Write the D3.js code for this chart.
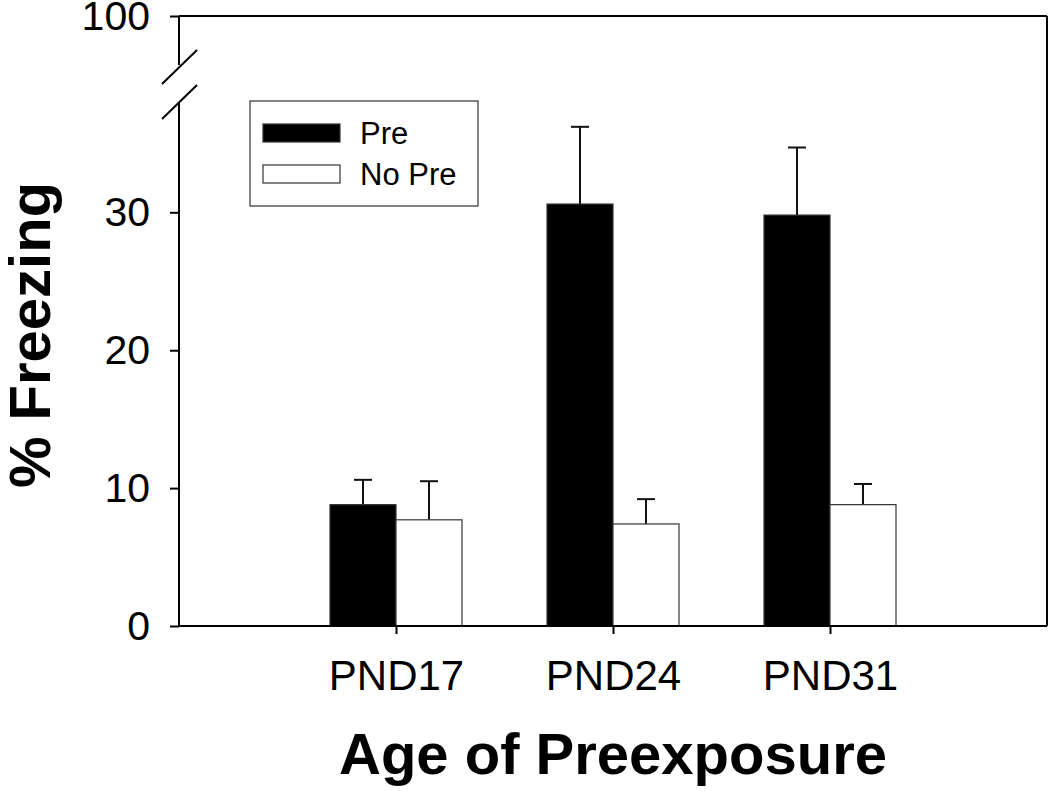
<!DOCTYPE html>
<html>
<head>
<meta charset="utf-8">
<script src="https://cdn.jsdelivr.net/npm/d3@7"></script>
<style>
  html, body { margin: 0; padding: 0; background: #fff; }
  svg { display: block; font-family: "Liberation Sans", Arial, sans-serif; }
</style>
</head>
<body>
<svg id="chart" width="1050" height="791"></svg>
<script>
const categories = ["PND17", "PND24", "PND31"];
const preValues = [8.8, 30.6, 29.8];
const preErrors = [1.8, 5.6, 4.9];
const noPreValues = [7.7, 7.4, 8.8];
const noPreErrors = [2.8, 1.8, 1.5];
const lowTicks = [0, 10, 20, 30];
const highTicks = [100];
const seriesNames = ["Pre", "No Pre"];
const seriesFills = ["#000000", "#ffffff"];

(function () {
const svg = d3.select("#chart");
const pLeft = 179, pRight = 1047, pTop = 16, pBottom = 626;

const x = d3.scalePoint().domain(categories).range([pLeft, pRight]).padding(1);
const yLow = d3.scaleLinear().domain([0, 38]).range([pBottom, 102]);
const yHigh = d3.scaleLinear().domain([96.5, 100]).range([65, pTop]);
const barW = 66;

// frame lines (top and right)
svg.append("line").attr("x1", pLeft).attr("x2", pRight).attr("y1", pTop).attr("y2", pTop)
  .attr("stroke", "#000").attr("stroke-width", 2);
svg.append("line").attr("x1", pRight).attr("x2", pRight).attr("y1", pTop).attr("y2", pBottom)
  .attr("stroke", "#000").attr("stroke-width", 2);

// bars
const series = [
  { name: seriesNames[0], values: preValues, errors: preErrors, fill: seriesFills[0], offset: -barW },
  { name: seriesNames[1], values: noPreValues, errors: noPreErrors, fill: seriesFills[1], offset: 0 }
];

series.forEach(s => {
  const g = svg.append("g");
  categories.forEach((c, i) => {
    const x0 = x(c) + s.offset;
    const cx = x0 + barW / 2;
    const yTop = yLow(s.values[i]);
    const yErr = yLow(s.values[i] + s.errors[i]);
    g.append("line").attr("x1", cx).attr("x2", cx).attr("y1", yTop).attr("y2", yErr)
      .attr("stroke", "#111").attr("stroke-width", 2);
    g.append("line").attr("x1", cx - 9).attr("x2", cx + 9).attr("y1", yErr).attr("y2", yErr)
      .attr("stroke", "#111").attr("stroke-width", 2);
    g.append("rect").attr("x", x0).attr("y", yTop).attr("width", barW).attr("height", pBottom - yTop)
      .attr("fill", s.fill).attr("stroke", "#333").attr("stroke-width", 1.2);
  });
});

const fmt = d3.format("d");

// y axis low
const yAxisLow = d3.axisLeft(yLow).tickValues(lowTicks).tickFormat(fmt).tickSize(9).tickPadding(20).tickSizeOuter(0);
const gyl = svg.append("g").attr("transform", `translate(${pLeft},0)`).call(yAxisLow);
gyl.select(".domain").remove();
gyl.append("line").attr("x1", 0).attr("x2", 0).attr("y1", 102).attr("y2", pBottom)
  .attr("stroke", "#000").attr("stroke-width", 2);

// y axis high
const yAxisHigh = d3.axisLeft(yHigh).tickValues(highTicks).tickFormat(fmt).tickSize(9).tickPadding(20).tickSizeOuter(0);
const gyh = svg.append("g").attr("transform", `translate(${pLeft},0)`).call(yAxisHigh);
gyh.select(".domain").remove();
gyh.append("line").attr("x1", 0).attr("x2", 0).attr("y1", pTop).attr("y2", 65)
  .attr("stroke", "#000").attr("stroke-width", 2);

[gyl, gyh].forEach(g => {
  g.selectAll(".tick line").attr("stroke", "#000").attr("stroke-width", 2);
  g.selectAll(".tick text").attr("font-size", 41).attr("fill", "#000")
    .attr("font-family", "'Liberation Sans', Arial, sans-serif");
});

// break marks
const breaks = [[84, 50], [119, 85]];
breaks.forEach(b => {
  svg.append("line").attr("x1", pLeft - 17).attr("y1", b[0]).attr("x2", pLeft + 18).attr("y2", b[1])
    .attr("stroke", "#000").attr("stroke-width", 2);
});

// x axis
const xAxis = d3.axisBottom(x).tickSize(8).tickPadding(26).tickSizeOuter(0);
const gx = svg.append("g").attr("transform", `translate(0,${pBottom})`).call(xAxis);
gx.select(".domain").remove();
gx.append("line").attr("x1", pLeft).attr("x2", pRight).attr("y1", 0).attr("y2", 0)
  .attr("stroke", "#000").attr("stroke-width", 2);
gx.selectAll(".tick line").attr("stroke", "#000").attr("stroke-width", 2);
gx.selectAll(".tick text").attr("font-size", 42).attr("fill", "#000")
  .attr("font-family", "'Liberation Sans', Arial, sans-serif");

// axis titles
svg.append("text").attr("x", 613).attr("y", 774).attr("text-anchor", "middle")
  .attr("font-size", 58).attr("font-weight", "bold").text("Age of Preexposure");
svg.append("text").attr("transform", "translate(50,335) rotate(-90)").attr("text-anchor", "middle")
  .attr("font-size", 58).attr("font-weight", "bold").text("% Freezing");

// legend
const lg = svg.append("g");
lg.append("rect").attr("x", 250).attr("y", 101).attr("width", 228).attr("height", 105)
  .attr("fill", "#fff").attr("stroke", "#333").attr("stroke-width", 1.2);
series.forEach((s, i) => {
  const yy = 124 + i * 41;
  lg.append("rect").attr("x", 263).attr("y", yy).attr("width", 77).attr("height", 18)
    .attr("fill", s.fill).attr("stroke", "#333").attr("stroke-width", 1.2);
  lg.append("text").attr("x", 360).attr("y", yy + 20).attr("font-size", 31).text(s.name);
});
})();
</script>
</body>
</html>
